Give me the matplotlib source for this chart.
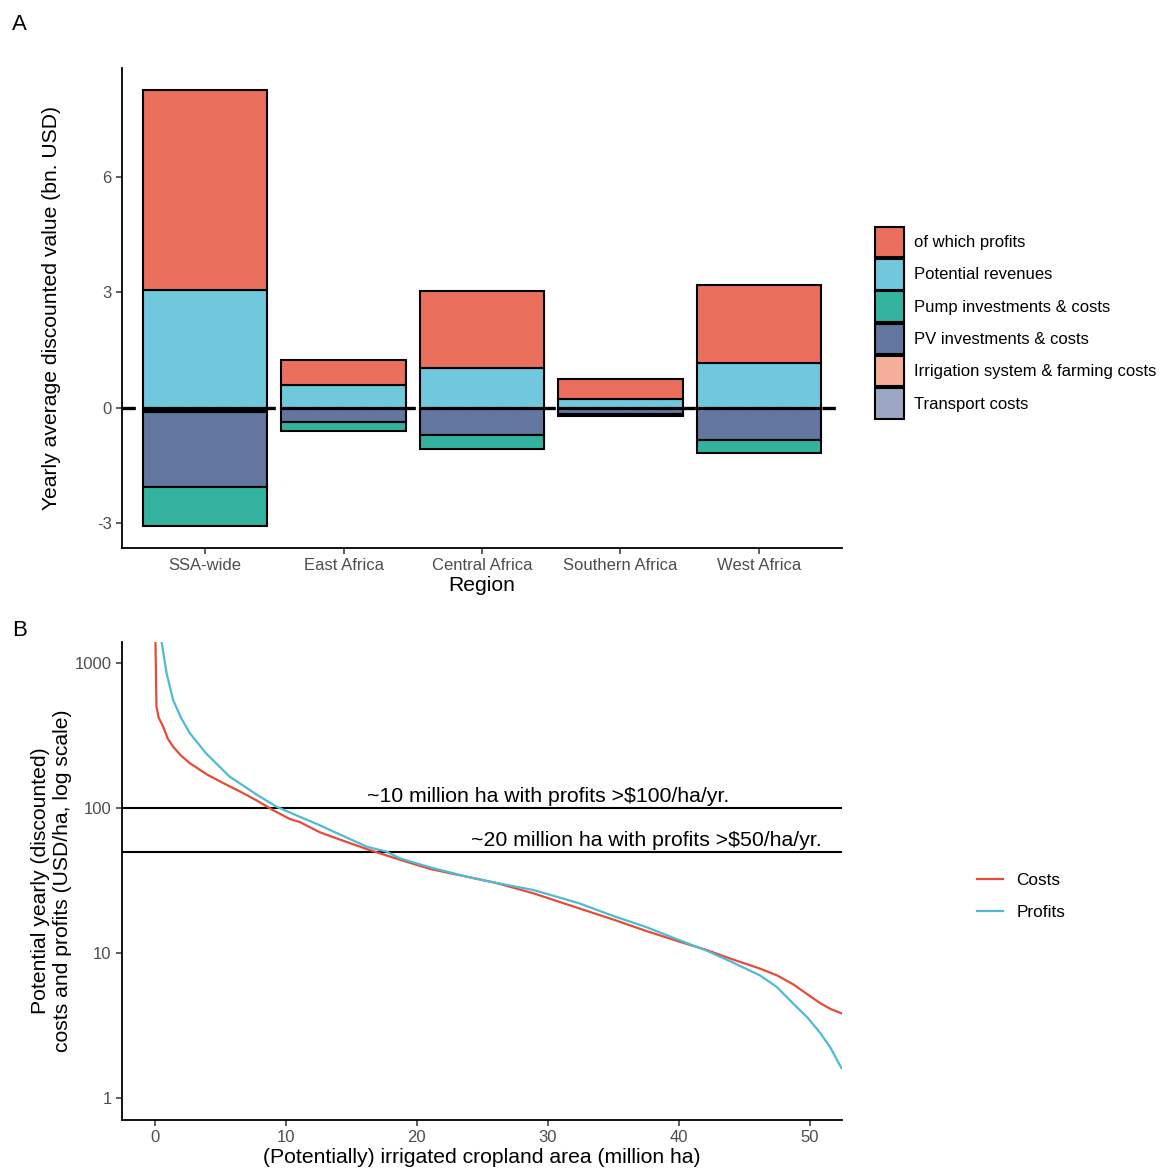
import numpy as np
import matplotlib
matplotlib.use("Agg")
import matplotlib.pyplot as plt
from matplotlib.colors import to_rgba
from matplotlib.patches import Patch
from matplotlib.lines import Line2D

plt.rcParams["font.family"] = ["Liberation Sans", "DejaVu Sans"]

# panel A data (bn. USD)
regions = ["SSA-wide", "East Africa", "Central Africa", "Southern Africa", "West Africa"]
revenues = [3.06, 0.60, 1.04, 0.23, 1.16]
profits = [5.20, 0.65, 2.00, 0.52, 2.03]
transport = [-0.06, -0.02, -0.02, -0.02, -0.02]
irrigation = [-0.04, -0.02, -0.02, -0.02, -0.02]
pv = [-1.96, -0.32, -0.66, -0.11, -0.79]
pump = [-1.00, -0.24, -0.37, -0.07, -0.35]

# panel B data (USD/ha vs million ha)
cost_x = [0, 0.05, 0.13, 0.3, 0.64, 1.0, 1.4, 2.0, 2.67, 4.0, 5.2, 6.5, 7.76, 9.0,
          10.3, 11.07, 12.6, 13.6, 16.2, 18.7, 21, 23.8, 26, 28.9, 32.4, 35, 37.5,
          40, 42.1, 44, 46.2, 47.5, 48.7, 49.8, 50.8, 51.6, 52.4]
cost_y = [5000, 1500, 500, 420, 364, 300, 265, 230, 204, 170, 149, 130, 113, 97,
          84, 80, 68, 63, 52, 44, 38, 33.6, 30.5, 25.8, 20.3, 17, 14.2,
          12, 10.5, 9.1, 7.8, 7.0, 6.1, 5.2, 4.5, 4.1, 3.84]
profit_x = [0.35, 0.5, 0.9, 1.4, 2.0, 2.67, 3.9, 5.7, 7.76, 9.3, 11.07, 12.6, 13.6,
            16.2, 17.7, 18.7, 21, 23.8, 26, 28.9, 32.4, 35, 37.5, 40, 42.1, 44,
            46.2, 47.5, 48.7, 49.8, 50.8, 51.6, 52.4]
profit_y = [5000, 1440, 853, 556, 420, 329, 239, 165, 124, 102, 87, 76, 69,
            54, 50, 45, 39, 33.6, 30.5, 27.2, 22, 18, 15.1, 12.3, 10.4, 8.7,
            7.0, 5.8, 4.5, 3.6, 2.8, 2.2, 1.61]

npg = {"profits": "#E64B35", "revenues": "#4DBBD5", "pump": "#00A087",
       "pv": "#3C5488", "irrigation": "#F39B7F", "transport": "#8491B4"}

fig = plt.figure(figsize=(11.64, 11.7), dpi=100)
tick_col = "#4D4D4D"
title_fs = 15.2
tick_fs = 12

# ---------- panel A ----------
axA = fig.add_axes([122 / 1164, 1 - 548 / 1170, 720 / 1164, 480 / 1170])
x = np.arange(len(regions))
axA.axhline(0, color="black", lw=2.4, ls=(0, (4, 3)), zorder=1)

pos_bottom = np.zeros(len(regions))
for key, vals in [("revenues", revenues), ("profits", profits)]:
    axA.bar(x, vals, 0.9, bottom=pos_bottom, color=to_rgba(npg[key], 0.8),
            edgecolor="black", linewidth=1.5, zorder=2)
    pos_bottom += np.array(vals)

neg_bottom = np.zeros(len(regions))
for key, vals in [("transport", transport), ("irrigation", irrigation),
                  ("pv", pv), ("pump", pump)]:
    axA.bar(x, vals, 0.9, bottom=neg_bottom, color=to_rgba(npg[key], 0.8),
            edgecolor="black", linewidth=1.5, zorder=2)
    neg_bottom += np.array(vals)

axA.set_xlim(-0.6, 4.6)
axA.set_ylim(-3.64, 8.83)
axA.set_yticks([-3, 0, 3, 6])
axA.set_yticklabels(["-3", "0", "3", "6"])
axA.set_xticks(x)
axA.set_xticklabels(regions)
axA.set_xlabel("Region", fontsize=title_fs, labelpad=2)
axA.set_ylabel("Yearly average discounted value (bn. USD)", fontsize=title_fs, labelpad=26)

handles = [Patch(facecolor=to_rgba(npg[k], 0.8), edgecolor="black", linewidth=1.5)
           for k in ["profits", "revenues", "pump", "pv", "irrigation", "transport"]]
labels = ["of which profits", "Potential revenues", "Pump investments & costs",
          "PV investments & costs", "Irrigation system & farming costs", "Transport costs"]
fig.legend(handles, labels, loc="upper left", bbox_to_anchor=(868 / 1164, 1 - 220 / 1170),
           frameon=False, fontsize=12, handlelength=1.75, handleheight=2.45,
           labelspacing=0.1, handletextpad=0.6, borderaxespad=0)

# ---------- panel B ----------
axB = fig.add_axes([122 / 1164, 1 - 1120 / 1170, 720 / 1164, 478 / 1170])
axB.plot(cost_x, cost_y, color=npg["profits"], lw=1.6, zorder=3)
axB.plot(profit_x, profit_y, color=npg["revenues"], lw=1.6, zorder=3)
axB.axhline(100, color="black", lw=1.5, zorder=2)
axB.axhline(50, color="black", lw=1.5, zorder=2)
axB.text(30, 102.5, "~10 million ha with profits >\\$100/ha/yr.", ha="center", va="bottom",
         fontsize=15.3)
axB.text(37.5, 51.3, "~20 million ha with profits >\\$50/ha/yr.", ha="center", va="bottom",
         fontsize=15.3)
axB.set_yscale("log")
axB.set_xlim(-2.5, 52.45)
axB.set_ylim(0.705, 1396)
axB.set_yticks([1, 10, 100, 1000])
axB.set_yticklabels(["1", "10", "100", "1000"])
axB.yaxis.set_minor_locator(matplotlib.ticker.NullLocator())
axB.set_xticks([0, 10, 20, 30, 40, 50])
axB.set_xlabel("(Potentially) irrigated cropland area (million ha)", fontsize=title_fs,
               labelpad=2)
axB.set_ylabel("Potential yearly (discounted)\ncosts and profits (USD/ha, log scale)",
               fontsize=title_fs, labelpad=2, linespacing=1.2)

lh = [Line2D([], [], color=npg["profits"], lw=1.6),
      Line2D([], [], color=npg["revenues"], lw=1.6)]
fig.legend(lh, ["Costs", "Profits"], loc="upper left",
           bbox_to_anchor=(970 / 1164, 1 - 866 / 1170), frameon=False, fontsize=12.4,
           handlelength=1.5, labelspacing=1.0, handletextpad=0.8, borderaxespad=0)

for ax in (axA, axB):
    for side in ("top", "right"):
        ax.spines[side].set_visible(False)
    for side in ("left", "bottom"):
        ax.spines[side].set_linewidth(1.3)
    ax.tick_params(labelsize=tick_fs, labelcolor=tick_col, color="#333333",
                   length=4, width=1.1)

fig.text(12 / 1164, 1 - 24 / 1170, "A", fontsize=16, va="center")
fig.text(12 / 1164, 1 - 630 / 1170, "B", fontsize=16, va="center")

fig.savefig("out.png", dpi=100)
